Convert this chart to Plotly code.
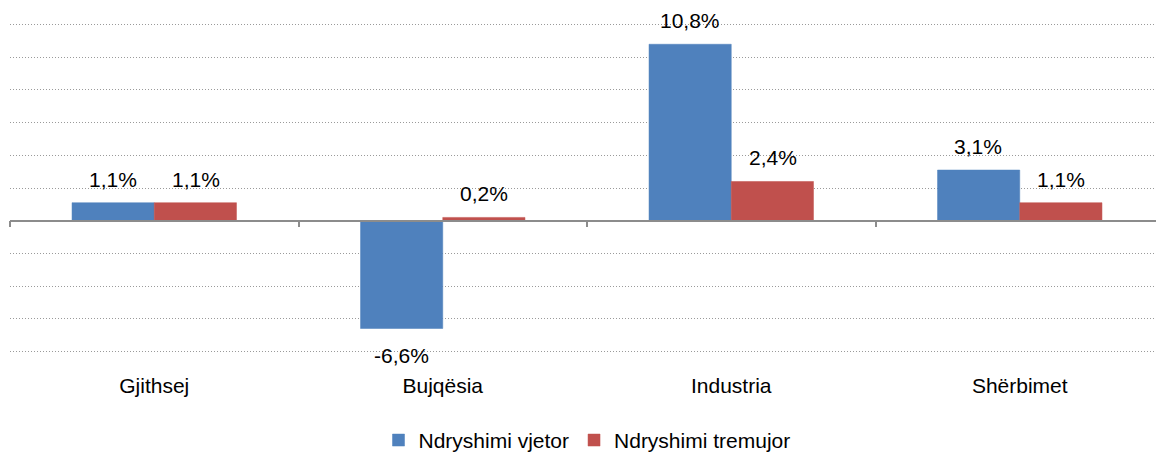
import plotly.graph_objects as go

categories = ["Gjithsej", "Bujqësia", "Industria", "Shërbimet"]
vjetor = [1.1, -6.6, 10.8, 3.1]
tremujor = [1.1, 0.2, 2.4, 1.1]
series_names = ["Ndryshimi vjetor", "Ndryshimi tremujor"]

blue = "#4F81BD"
red = "#C0504D"
axis_grey = "#8C8C8C"
font_name = "Liberation Sans, Arial, sans-serif"

# a little padding so the grid lines at -8 and 12 are still drawn
y_min, y_max = -8.1, 12.1
half_bar = 0.143  # half of one bar in category units


def fmt(v):
    return f"{v:.1f}".replace(".", ",") + "%"


fig = go.Figure()
for vals, name, col in [(vjetor, series_names[0], blue), (tremujor, series_names[1], red)]:
    fig.add_trace(go.Bar(
        x=categories, y=vals, name=name,
        marker_color=col, marker_line=dict(color=col, width=0.5),
        hoverinfo="skip",
    ))

# helper trace so the zero-line axis gets drawn
fig.add_trace(go.Scatter(x=categories, y=[None] * len(categories), xaxis="x2",
                         showlegend=False, hoverinfo="skip"))

annotations = []
for i, cat in enumerate(categories):
    for vals, off in [(vjetor, -half_bar), (tremujor, half_bar)]:
        v = vals[i]
        annotations.append(dict(
            x=i + off, y=v, xref="x", yref="y", text=fmt(v), showarrow=False,
            yanchor="bottom" if v >= 0 else "top",
            yshift=10 if v >= 0 else -13,
            font=dict(size=21, color="#000000", family=font_name),
        ))

# page body adds 8px of margin, so the figure is 8px smaller than the window
fig.update_layout(
    width=1156, height=444,
    margin=dict(l=2, r=0, t=15, b=99, autoexpand=False),
    paper_bgcolor="white", plot_bgcolor="white",
    barmode="group", bargap=0.43, bargroupgap=0,
    font=dict(family=font_name, size=21, color="#000000"),
    annotations=annotations,
    xaxis=dict(
        type="category", categoryorder="array", categoryarray=categories,
        showline=False, showgrid=False, ticks="", ticklabelstandoff=18,
        tickfont=dict(size=21), automargin=False,
    ),
    xaxis2=dict(
        type="category", categoryorder="array", categoryarray=categories,
        matches="x", overlaying="x", anchor="free",
        position=(0 - y_min) / (y_max - y_min),
        showline=True, linecolor=axis_grey, linewidth=1.5,
        ticks="outside", tickson="boundaries", ticklen=6, tickcolor=axis_grey,
        tickwidth=1.5, showticklabels=False, showgrid=False, automargin=False,
    ),
    yaxis=dict(
        range=[y_min, y_max], tick0=0, dtick=2, showticklabels=False,
        showgrid=True, gridcolor="#9A9A9A", griddash="1px,2px", gridwidth=1,
        zeroline=False, showline=False, automargin=False,
    ),
    legend=dict(
        orientation="h", x=0.5, xanchor="center", y=-0.327, yanchor="bottom",
        font=dict(size=21), itemwidth=30,
    ),
    showlegend=True,
)

fig.write_html("out.html")
